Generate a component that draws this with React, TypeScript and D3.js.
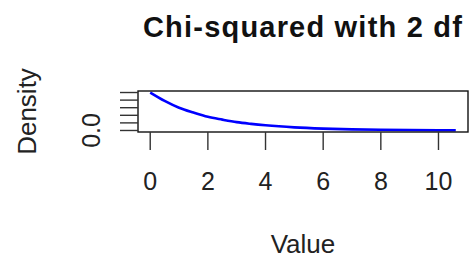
import React from 'react'
import * as d3 from 'd3'

// density
const xValues = [0, 0.5, 1, 1.5, 2, 2.5, 3, 3.5, 4, 5, 6, 7, 8, 9, 10, 10.6]
const densityValues = [0.5, 0.39, 0.3, 0.236, 0.18, 0.143, 0.11, 0.087, 0.068, 0.041, 0.025, 0.015, 0.009, 0.0055, 0.0034, 0.0025]
const xTicks = [0, 2, 4, 6, 8, 10]
const yTicks = [0, 0.1, 0.2, 0.3, 0.4, 0.5]

const title = 'Chi-squared with 2 df'
const xLabel = 'Value'
const yLabel = 'Density'

const W = 472
const H = 259
const box = { left: 138, right: 468, top: 91, bottom: 132 }
const font = '"Liberation Sans", Arial, sans-serif'
const fs = 25

const App: React.FC = () => {
  const xMin = d3.min(xValues) as number
  const xMax = d3.max(xValues) as number
  const yMax = d3.max(densityValues) as number
  const xPad = (xMax - xMin) * 0.04
  const yPad = yMax * 0.04

  const x = d3.scaleLinear().domain([xMin - xPad, xMax + xPad]).range([box.left, box.right])
  const y = d3.scaleLinear().domain([-yPad, yMax + yPad]).range([box.bottom, box.top])

  const pts = xValues.map((v, i) => [v, densityValues[i]] as [number, number])
  const line = d3.line<[number, number]>()
    .x(d => x(d[0]))
    .y(d => y(d[1]))
    .curve(d3.curveMonotoneX)

  // R skips y labels that would overlap the previous one
  const labW = fs * 1.4
  const gap = fs * 0.8
  let last = -Infinity
  const shownY: number[] = []
  yTicks.forEach(t => {
    const p = y(t)
    if (Math.abs(p - last) >= labW + gap) {
      shownY.push(t)
      last = p
    }
  })

  const tickLen = 18
  const midX = (box.left + box.right) / 2
  const midY = (box.top + box.bottom) / 2

  return (
    <svg width={W} height={H} style={{ position: 'absolute', left: 0, top: 0 }} fontFamily={font}>
      <rect width={W} height={H} fill="#fff" />
      <text x={midX} y={37} textAnchor="middle" fontSize={29} fontWeight="bold" letterSpacing={1.2} fill="#111">
        {title}
      </text>
      <path d={line(pts) || ''} fill="none" stroke="#0000ff" strokeWidth={2.6} />
      <rect x={box.left} y={box.top} width={box.right - box.left} height={box.bottom - box.top}
        fill="none" stroke="#111" strokeWidth={1.4} />
      {xTicks.map(t => (
        <g key={'x' + t}>
          <line x1={x(t)} x2={x(t)} y1={box.bottom} y2={box.bottom + tickLen} stroke="#333" strokeWidth={1.4} />
          <text x={x(t)} y={190} textAnchor="middle" fontSize={fs} fill="#222">{t}</text>
        </g>
      ))}
      {yTicks.map(t => (
        <line key={'y' + t} x1={box.left - tickLen} x2={box.left} y1={y(t)} y2={y(t)} stroke="#333" strokeWidth={1.4} />
      ))}
      {shownY.map(t => (
        <text key={'yl' + t} transform={`translate(100,${y(t)}) rotate(-90)`} textAnchor="middle" fontSize={fs} fill="#222">
          {d3.format('.1f')(t)}
        </text>
      ))}
      <text x={midX} y={253} textAnchor="middle" fontSize={26} fill="#222">{xLabel}</text>
      <text transform={`translate(36,${midY}) rotate(-90)`} textAnchor="middle" fontSize={26} fill="#222">{yLabel}</text>
    </svg>
  )
}

export default App
